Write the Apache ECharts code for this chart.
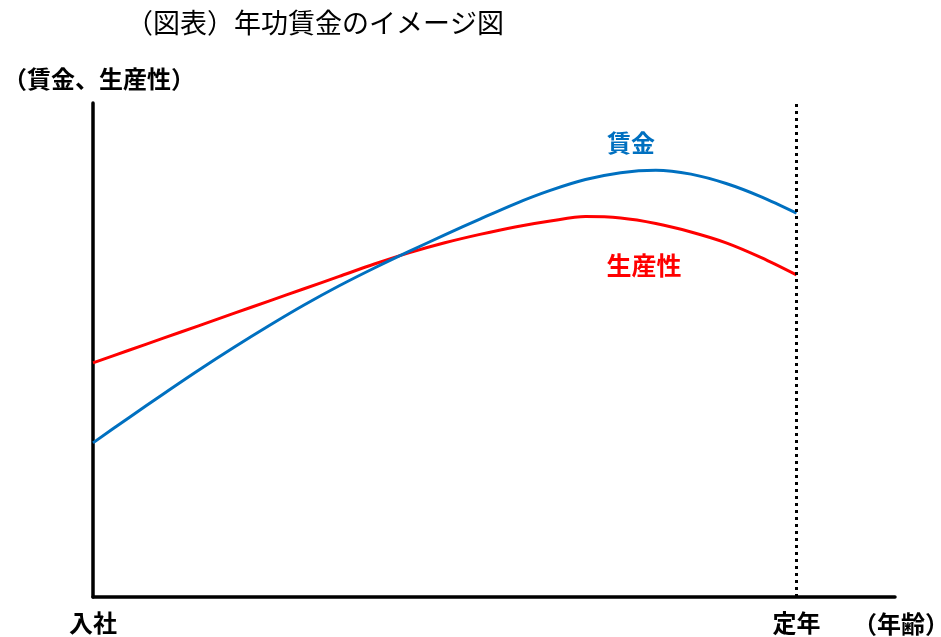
<!DOCTYPE html>
<html>
<head>
<meta charset="utf-8">
<script src="https://cdn.jsdelivr.net/npm/echarts@6/dist/echarts.min.js"></script>
<style>
html,body{margin:0;padding:0;background:#fff;}
#main{width:941px;height:637px;}
</style>
</head>
<body>
<div id="main"></div>
<script>
// Data (x: career position, 0 = 入社, 100 = 定年)
const ages = [0, 5, 10, 15, 20, 25, 30, 35, 40, 45, 50, 55, 60, 65, 70, 75, 80, 85, 90, 95, 100];
const wage = [31.2, 36.2, 41.1, 45.9, 50.5, 54.9, 59.1, 63.0, 66.6, 70.0, 73.3, 76.5, 79.6, 82.3, 84.5, 85.9, 86.4, 85.6, 83.7, 81.0, 77.7];
const productivity = [47.4, 49.9, 52.4, 54.9, 57.4, 59.9, 62.4, 64.9, 67.4, 69.7, 71.7, 73.4, 74.9, 76.1, 77.0, 76.7, 75.6, 73.9, 71.7, 68.7, 65.2];
const tickValues = [0, 100];
const tickLabels = ['入社', '定年'];
const retirementAge = 100;
const titleText = '（図表）年功賃金のイメージ図';
const yName = '（賃金、生産性）';
const xName = '（年齢）';
const wageName = '賃金';
const prodName = '生産性';

const FONT = '"Noto Sans CJK JP", "Noto Sans", sans-serif';
const chart = echarts.init(document.getElementById('main'), null, {renderer: 'canvas'});

const zip = (xs, ys) => xs.map((x, i) => [x, ys[i]]);

chart.setOption({
  backgroundColor: '#ffffff',
  animation: false,
  grid: {left: 93, right: 46, top: 103, bottom: 40, containLabel: false},
  xAxis: {
    type: 'value', min: 0, max: 114,
    axisLine: {show: true, onZero: false, lineStyle: {color: '#000', width: 3.5}},
    axisTick: {show: false},
    splitLine: {show: false},
    axisLabel: {
      show: true,
      customValues: tickValues,
      margin: 14,
      fontFamily: FONT, fontSize: 24, fontWeight: 'bold', color: '#000',
      formatter: v => { const i = tickValues.indexOf(v); return i >= 0 ? tickLabels[i] : ''; }
    }
  },
  yAxis: {
    type: 'value', min: 0, max: 100,
    axisLine: {show: true, onZero: false, lineStyle: {color: '#000', width: 3.5}},
    axisTick: {show: false},
    axisLabel: {show: false},
    splitLine: {show: false}
  },
  series: [
    {
      name: wageName, type: 'line', smooth: 0.3, showSymbol: false,
      data: zip(ages, wage),
      lineStyle: {color: '#0070C0', width: 3},
      itemStyle: {color: '#0070C0'},
      z: 3,
      markLine: {
        silent: true, symbol: ['none', 'none'], label: {show: false},
        lineStyle: {color: '#000', width: 3, type: [3, 4]},
        data: [{xAxis: retirementAge}]
      }
    },
    {
      name: prodName, type: 'line', smooth: 0.3, showSymbol: false,
      data: zip(ages, productivity),
      lineStyle: {color: '#FF0000', width: 3},
      itemStyle: {color: '#FF0000'},
      z: 2
    }
  ],
  graphic: [
    {type: 'text', x: 315, y: 23,
     style: {text: titleText, font: '27px ' + FONT, fill: '#000', align: 'center', verticalAlign: 'middle'}},
    {type: 'text', x: 99, y: 79,
     style: {text: yName, font: 'bold 24px ' + FONT, fill: '#000', align: 'center', verticalAlign: 'middle'}},
    {type: 'text', x: 901, y: 624,
     style: {text: xName, font: 'bold 24px ' + FONT, fill: '#000', align: 'center', verticalAlign: 'middle'}},
    {type: 'text', x: 631, y: 143,
     style: {text: wageName, font: 'bold 24px ' + FONT, fill: '#0070C0', align: 'center', verticalAlign: 'middle'}},
    {type: 'text', x: 644, y: 265,
     style: {text: prodName, font: 'bold 25px ' + FONT, fill: '#FF0000', align: 'center', verticalAlign: 'middle'}}
  ]
});
</script>
</body>
</html>
